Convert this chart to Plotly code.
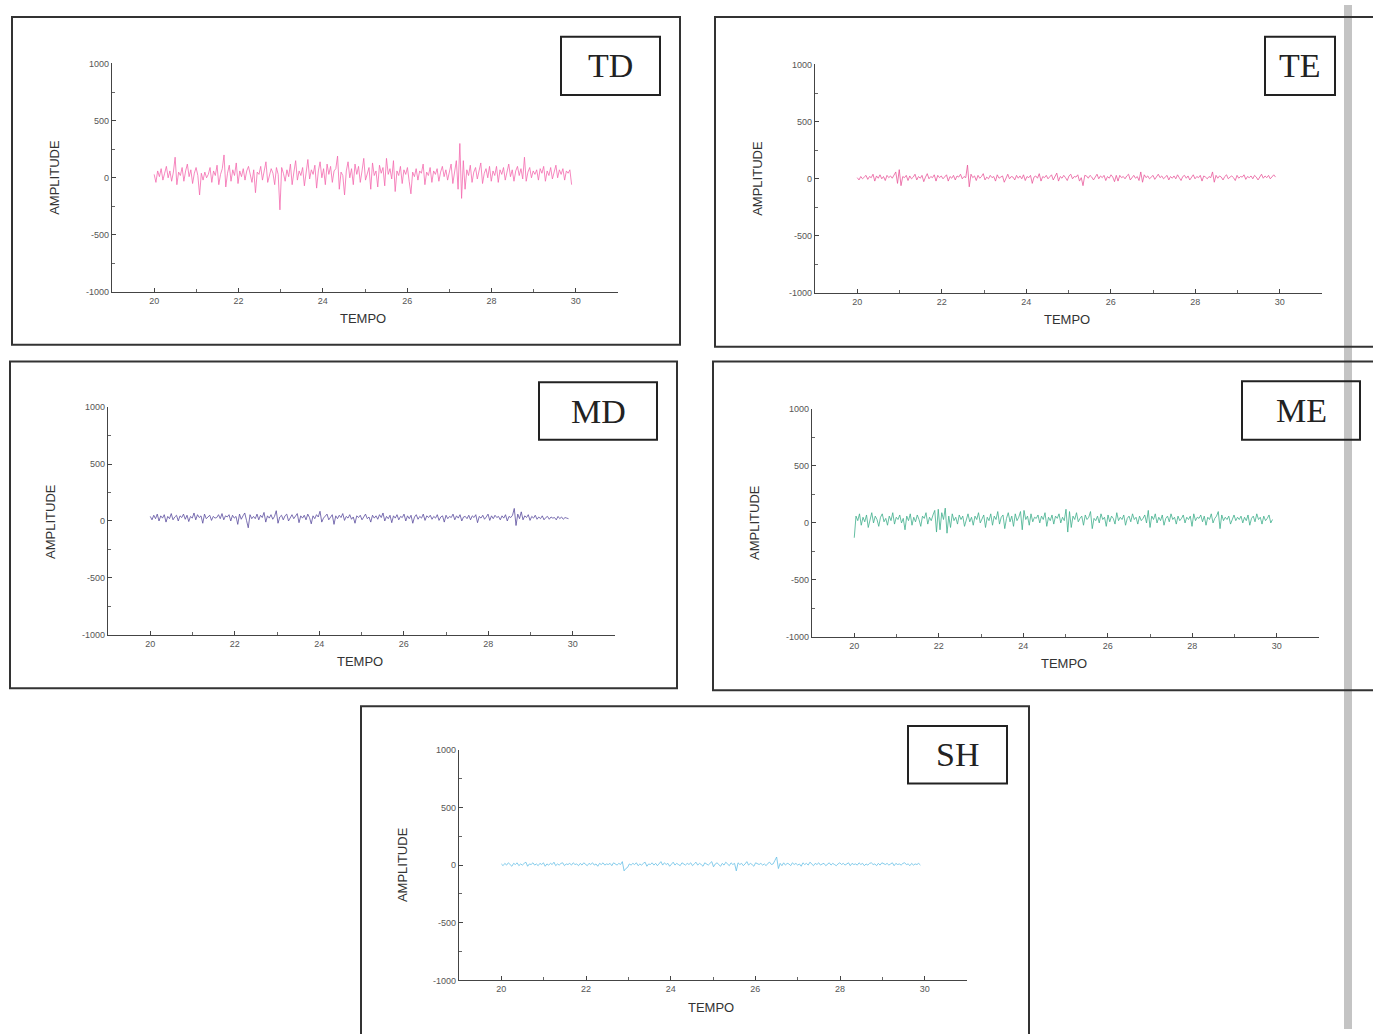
import numpy as np
import plotly.graph_objects as go

W, H = 1373, 1034
T_START, T_END = 20.0, 29.9

TD = [30, -40, 60, 10, 80, -20, 40, 100, 0, 60, -30, 50, 180, -60, 50, 20, 90, -30, 60, 120,
      10, 70, -50, 40, 90, 20, -150, 40, -20, 50, 0, 30, 90, -40, 60, 20, 110, -60, 30, 80,
      200, -80, 40, 110, -30, 70, 20, 130, -50, 60, 10, 80, -20, 60, 100, 30, -40, 70, -130, 50,
      30, 100, -20, 60, 140, -40, 20, 80, 40, -60, 90, 30, -280, 90, 40, -30, 70, 10, 120, -60,
      50, 150, -20, 60, 20, 90, -70, 40, 160, -10, 70, 30, 110, -90, 60, 140, 0, 80, -60, 120,
      30, 100, -40, 60, 80, 190, -100, 50, 20, -150, 60, 140, 0, 80, -60, 120, 30, 100, -40, 60,
      170, -20, 50, 90, -100, 130, 20, 60, -80, 110, 40, 90, -70, 170, 30, 80, -10, 150, -120, 60,
      20, 100, -50, 70, 30, 90, -30, -140, 50, 10, 80, -20, 60, 40, 120, -60, 50, 20, 90, -40,
      60, 30, 80, -30, 50, 100, 10, 70, -20, 60, 120, -50, 40, 150, -100, 300, -180, 150, -100, 70,
      20, 110, -40, 50, 90, -10, 60, 130, -50, 40, 80, 0, 100, -30, 60, 20, 100, -40, 70, 30,
      90, -20, 50, 120, 10, 70, -30, 60, 100, 20, 80, -10, 180, -30, 50, 90, 0, 60, 30, 70,
      -20, 80, 40, 100, -30, 60, 20, 90, -10, 50, 110, 0, 70, 30, 80, -20, 60, 40, 70, -60]

TE = [10, -10, 20, 0, 15, 30, -5, 20, 10, 40, -20, 25, 5, 35, 0, 20, -15, 30, 10, 25,
      5, 35, 60, -40, 80, -60, 20, 10, 30, -15, 25, 0, 15, 40, -10, 20, 5, 30, -25, 15,
      45, 0, 20, 10, 35, -20, 30, 10, 25, 0, 15, 35, -20, 20, 5, 30, -10, 25, 15, 40,
      0, 20, 10, 120, -70, 40, 10, 25, -15, 30, 5, 20, 45, -10, 15, 0, 30, 10, 20, -20,
      35, 5, 15, 25, -30, 10, 40, 0, 20, 15, -10, 30, 5, 25, 0, 35, -15, 20, 10, 30,
      -40, 15, 25, 5, 45, -20, 20, 10, 30, 0, 15, 35, -10, 25, 50, -20, 20, 5, 30, 10,
      -15, 25, 40, 0, 20, 15, 35, -20, 10, -60, 30, 25, 5, 30, 15, -10, 20, 40, 0, 25,
      10, 30, -15, 20, 5, 35, 15, -25, 30, -20, 30, 10, 20, 0, 25, 40, -10, 15, 30, 5,
      20, -15, 60, -30, 35, 10, 25, 0, 15, 30, -5, 20, 40, 10, 25, 0, 15, 30, -10, 20,
      5, 25, 0, 35, 10, -15, 20, 30, 5, 25, -10, 15, 35, 0, 20, 10, 30, -20, 25, 15,
      0, 20, 10, 60, -30, 30, 5, 25, 15, -10, 20, 35, 0, 15, 25, 10, -15, 30, 5, 20,
      15, 35, -5, 20, 10, 25, 0, 30, 15, -10, 20, 40, 5, 25, 10, 30, 0, 20, 35, 15]

MD = [40, 10, 50, 20, 60, 0, 45, 25, 55, -10, 40, 20, 65, 10, 35, 50, 0, 45, 30, 60,
      15, 50, -5, 40, 25, 70, 10, 55, 30, 45, -20, 60, 20, 35, 50, 5, 40, 25, 30, 55,
      20, 65, 10, 45, 35, 55, 0, 50, 25, 40, -30, 60, 15, 45, 70, 5, -60, 55, 20, 40,
      20, 60, 10, 50, 30, 75, -10, 45, 25, 55, 15, 40, 90, -20, 35, 50, 10, 45, 60, 0,
      30, 55, 20, 40, 65, -15, 45, 25, 50, 10, 60, 30, -25, 45, 20, 55, 35, 85, -10, 25,
      40, 60, 10, 35, 55, -30, 45, 20, 50, 30, 65, 5, 40, 25, 55, 15, 35, -20, 45, 30,
      50, 10, 40, 60, 20, 35, -10, 50, 25, 45, 15, 55, 30, 70, 0, 40, 20, 50, -15, 45,
      25, 55, 10, 40, 30, 60, 0, 45, 20, 50, -20, 35, 55, 15, 40, 25, 60, 5, 45, 30,
      50, 15, 40, 25, 55, 5, 35, 45, -10, 50, 20, 40, 30, 60, 10, 45, 25, 55, 0, 35,
      40, 20, 50, 10, 45, 30, 55, -15, 40, 25, 50, 15, 35, 60, 5, 45, 20, 50, 30, 40,
      10, 45, 25, 55, 0, 40, 30, 50, 110, -40, 60, 20, 80, 10, 45, 30, 55, 5, 40, 25,
      50, 15, 35, 20, 45, 10, 30, 40, 15, 35, 25, 30, 10, 40, 20, 35, 15, 30, 25, 20]

ME = [-130, 60, 20, 80, -20, 50, 10, 70, -40, 40, 90, 0, 60, 30, -30, 50, 80, 10, 40, -20,
      60, 20, 90, -10, 50, 30, 70, 0, 40, -60, 60, 20, 80, -20, 50, 10, 70, 30, -30, 60,
      40, 90, -10, 50, 20, 70, 110, -80, 120, -60, 90, 30, 130, -90, 60, -40, 80, 20, 50, -10,
      70, 30, 60, -30, 40, 80, 10, 50, -20, 60, 30, 90, 0, 40, 70, -40, 50, 20, 80, -20,
      60, 30, 100, -10, 50, 70, -50, 40, 90, 10, 60, -30, 80, 20, 50, 100, -60, 110, 30, 60,
      -20, 80, 10, 50, 40, 70, 0, 60, 30, 90, -30, 50, 20, 70, -10, 60, 40, 80, 0, 50,
      20, 120, -80, 100, -40, 60, 30, 90, 10, 40, 60, -20, 70, 30, 50, 100, -50, 40, 20, 60,
      0, 80, 30, 50, -30, 70, 10, 60, 40, -10, 90, 20, 50, 30, 70, -20, 40, 60, 10, 80,
      30, 50, -10, 60, 20, 40, 70, 0, 110, -40, 60, 30, 80, 0, 50, 20, 70, -20, 40, 60,
      10, 80, 30, 50, -10, 60, 20, 40, 70, 0, 50, 30, 60, -30, 80, 20, 50, 40, 70, 10,
      60, -20, 50, 30, 80, 0, 40, 60, 100, -50, 70, 20, 50, 30, 60, -10, 40, 70, 20, 50,
      30, 60, 0, 50, 20, 70, -20, 40, 60, 10, 80, 30, 50, -10, 60, 20, 40, 70, 0, 30]

SH = [10, -5, 15, 0, 20, 5, -10, 15, 5, 20, -5, 10, 0, 15, 25, -10, 10, 5, 20, 0,
      10, -5, 15, 5, 20, -10, 10, 0, 15, 5, 25, -5, 10, 0, 15, 20, -5, 10, 5, 15,
      0, 20, 5, 10, -5, 15, 0, 20, 10, -5, 15, 5, 20, 0, 10, -10, 15, 5, 20, 0,
      10, 5, 15, -5, 20, 10, 0, 15, 5, 30, -50, -30, -20, 10, 0, 15, 5, 20, -5, 10,
      0, 15, 25, -10, 10, 5, 20, 0, 15, -5, 10, 30, 0, 20, 5, 15, -10, 10, 25, 0,
      15, 5, -5, 20, 10, 0, 15, 5, 20, -5, 10, 25, 0, 15, 5, -10, 20, 10, 0, 15,
      30, -15, 10, 20, 5, -10, 15, 0, 25, 10, -5, 20, 5, 15, -50, 20, 5, 15, -5, 10,
      30, 0, 15, 5, -10, 20, 10, 5, 15, 0, 10, -5, 15, 25, 5, 10, 40, 70, -30, 15,
      -5, 20, 0, 15, 10, -5, 20, 5, 15, 0, 10, -10, 20, 5, 15, 0, 25, 10, -5, 15,
      5, 20, 0, 10, 15, -5, 10, 20, 0, 15, 5, -5, 10, 20, 5, 15, 0, 10, 20, -5,
      15, 5, 10, 0, 20, 5, 15, -5, 10, 0, 15, 20, 5, 10, -5, 15, 0, 20, 10, 5,
      15, 0, 10, 20, -5, 15, 5, 10, 0, 15, 20, 5, 10, -5, 15, 0, 10, 5, 15, 0]

LABELS = ["TD", "TE", "MD", "ME", "SH"]
SERIES = [TD, TE, MD, ME, SH]
COLORS = ["#f46aae", "#e8589a", "#5a4c9e", "#3fae8c", "#66bfe6"]
X_TICKS = [20, 22, 24, 26, 28, 30]
Y_TICKS = [-1000, -500, 0, 500, 1000]
Y_TICKTEXT = ["-1000", "-500", "0", "500", "1000"]

# layout geometry in pixels
PLOTS = [(112, 618, 59, 290), (815, 1322, 60, 291), (108, 615, 406, 636),
         (812, 1319, 408, 638), (459, 967, 752, 985)]
OUTER = [(12, 680, 12, 343), (715, 1380, 12, 345), (10, 677, 360, 690),
         (713, 1380, 360, 692), (361, 1029, 708, 1040)]
LBOX = [(561, 660, 32, 91), (1265, 1335, 32, 91), (539, 657, 381, 439),
        (1242, 1360, 380, 439), (908, 1007, 728, 786)]


def px(x):
    return x / W


def py(y):
    return 1 - y / H


fig = go.Figure()
layout = dict(width=W, height=H, margin=dict(l=0, r=0, t=0, b=0),
              paper_bgcolor="white", plot_bgcolor="rgba(0,0,0,0)", showlegend=False)
shapes, annotations = [], []

# scan artifact bar
shapes.append(dict(type="rect", xref="paper", yref="paper", x0=px(1344), x1=px(1352),
                   y0=0, y1=1, fillcolor="#c4c4c4", line=dict(width=0), layer="below"))

axfont = dict(family="Liberation Sans, Arial", size=9, color="#555")
for i, (lab, vals, col) in enumerate(zip(LABELS, SERIES, COLORS)):
    n = len(vals)
    t = np.linspace(T_START, T_END, n)
    k = "" if i == 0 else str(i + 1)
    fig.add_trace(go.Scatter(x=t, y=vals, mode="lines", line=dict(color=col, width=0.8),
                             xaxis="x" + k, yaxis="y" + k, hoverinfo="skip"))
    xl, xr, yt, yb = PLOTS[i]
    layout["xaxis" + k] = dict(domain=[px(xl), px(xr)], range=[19, 31], anchor="y" + k,
                               tickvals=X_TICKS, ticks="inside", ticklen=4, tickcolor="#444",
                               showline=True, linecolor="#444", linewidth=1.2,
                               showgrid=False, zeroline=False, tickfont=axfont,
                               minor=dict(dtick=1, tick0=19, ticks="inside", ticklen=3, tickcolor="#666"))
    layout["yaxis" + k] = dict(domain=[py(yb), py(yt)], range=[-1000, 1000], anchor="x" + k,
                               tickvals=Y_TICKS, ticktext=Y_TICKTEXT, ticks="inside", ticklen=4,
                               tickcolor="#444", showline=True, linecolor="#444", linewidth=1.2,
                               showgrid=False, zeroline=False, tickfont=axfont,
                               minor=dict(dtick=250, tick0=0, ticks="inside", ticklen=3, tickcolor="#666"))
    ox0, ox1, oy0, oy1 = OUTER[i]
    shapes.append(dict(type="rect", xref="paper", yref="paper", x0=px(ox0), x1=px(ox1),
                       y0=py(oy1), y1=py(oy0), line=dict(color="#333", width=2)))
    lx0, lx1, ly0, ly1 = LBOX[i]
    shapes.append(dict(type="rect", xref="paper", yref="paper", x0=px(lx0), x1=px(lx1),
                       y0=py(ly1), y1=py(ly0), line=dict(color="#222", width=2)))
    annotations.append(dict(text=lab, xref="paper", yref="paper", x=px((lx0 + lx1) / 2),
                            y=py((ly0 + ly1) / 2), showarrow=False, xanchor="center", yanchor="middle",
                            font=dict(family="Liberation Serif, Times New Roman", size=34, color="#222")))
    annotations.append(dict(text="AMPLITUDE", xref="paper", yref="paper", x=px(xl - 57),
                            y=py((yt + yb) / 2), showarrow=False, textangle=-90,
                            xanchor="center", yanchor="middle",
                            font=dict(family="Liberation Sans, Arial", size=13, color="#333")))
    annotations.append(dict(text="TEMPO", xref="paper", yref="paper", x=px((xl + xr) / 2 - 2),
                            y=py(yb + 27), showarrow=False, xanchor="center", yanchor="middle",
                            font=dict(family="Liberation Sans, Arial", size=13, color="#333")))

layout["shapes"] = shapes
layout["annotations"] = annotations
fig.update_layout(**layout)
fig.write_html("out.html")
